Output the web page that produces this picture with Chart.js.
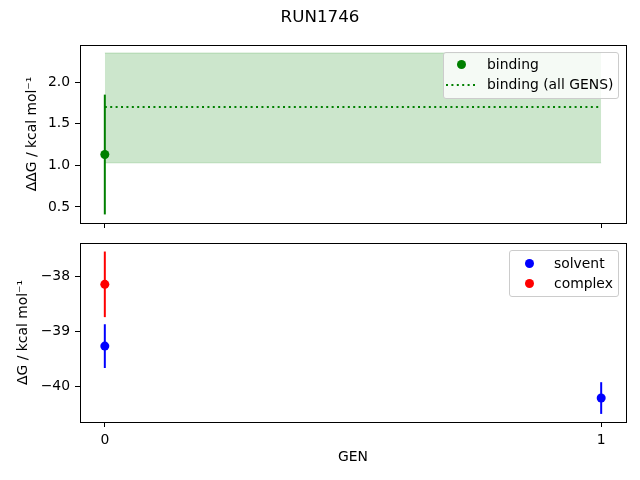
<!DOCTYPE html>
<html><head><meta charset="utf-8">
<script src="https://cdn.jsdelivr.net/npm/chart.js@4"></script>
<style>
body{margin:0;width:640px;height:480px;position:relative;background:#fff;overflow:hidden;font-family:"DejaVu Sans",sans-serif}
canvas{position:absolute;left:0}
#c1{top:0}
#c2{top:233px}
.lbox{position:absolute;border:1px solid #cccccc;border-radius:3px;background:rgba(255,255,255,0.8)}
.item{position:absolute;white-space:nowrap;font-size:13.9px;line-height:16px;color:#000}
.dot{position:absolute;width:9px;height:9px;border-radius:50%}
svg{position:absolute}
</style>
</head><body>
<canvas id="c1" width="640" height="233"></canvas>
<canvas id="c2" width="640" height="247"></canvas>

<div class="lbox" style="left:443px;top:52px;width:174px;height:45px"></div>
<div class="dot" style="left:456.5px;top:60px;background:green"></div>
<div class="item" style="left:487px;top:56px">binding</div>
<svg style="left:446px;top:83px" width="30" height="4"><line x1="0" y1="2" x2="30" y2="2" stroke="green" stroke-width="2" stroke-dasharray="2 3.4"/></svg>
<div class="item" style="left:487px;top:76px">binding (all GENS)</div>

<div class="lbox" style="left:509px;top:250px;width:108px;height:45px"></div>
<div class="dot" style="left:524.5px;top:258.5px;background:blue"></div>
<div class="item" style="left:554px;top:255px">solvent</div>
<div class="dot" style="left:524.5px;top:278.5px;background:red"></div>
<div class="item" style="left:554px;top:275px">complex</div>

<script>
// ---- data ----
const gens = [0, 1];
const xTicks = [0, 1];
const bindingGen = [0];
const bindingVal = [1.13];
const bindingErr = [0.72];
const bindingAll = 1.70;
const bindingAllLow = 1.03;
const bindingAllHigh = 2.35;
const solventGen = [0, 1];
const solventVal = [-39.27, -40.22];
const solventErr = [0.40, 0.29];
const complexGen = [0];
const complexVal = [-38.14];
const complexErr = [0.60];
const topYTicks = [0.5, 1.0, 1.5, 2.0];
const botYTicks = [-40, -39, -38];

Chart.defaults.font.family = 'DejaVu Sans';
Chart.defaults.font.size = 13.9;
Chart.defaults.color = '#000';

const frame = {id:'frame', afterDraw(c){const a=c.chartArea, x=c.ctx; x.save(); x.strokeStyle='#000'; x.lineWidth=1;
  x.strokeRect(Math.round(a.left)+0.5, Math.round(a.top)+0.5, Math.round(a.right-a.left), Math.round(a.bottom-a.top)); x.restore();}};

function errSets(xs, vals, errs, color){
  return xs.map((x,i)=>({showLine:true, data:[{x:x,y:vals[i]-errs[i]},{x:x,y:vals[i]+errs[i]}],
    borderColor:color, borderWidth:2, pointRadius:0, order:2}));
}
function ptSet(xs, vals, color){
  return {data: xs.map((x,i)=>({x:x,y:vals[i]})), backgroundColor:color, borderColor:color, borderWidth:0, pointRadius:4.5, order:1};
}
function tickSetter(arr){ return s => { s.ticks = arr.map(v=>({value:v})); }; }
function fitX(h){ return s => { s.height = h; s.paddingLeft = 0; s.paddingRight = 0; s.paddingTop = 0; s.paddingBottom = 0; }; }
function fitY(w){ return s => { s.width = w; s.paddingLeft = 0; s.paddingRight = 0; s.paddingTop = 0; s.paddingBottom = 0; }; }
const gridOpts = {drawOnChartArea:false, tickLength:5, color:'#000', lineWidth:1};

new Chart(document.getElementById('c1'), {
  type:'scatter',
  data:{datasets:[
    {showLine:true, data: gens.map(x=>({x:x,y:bindingAllLow})), borderColor:'rgba(0,128,0,0.2)', borderWidth:1, pointRadius:0, order:4},
    {showLine:true, data: gens.map(x=>({x:x,y:bindingAllHigh})), borderColor:'rgba(0,128,0,0.2)', borderWidth:1, pointRadius:0, fill:'-1', backgroundColor:'rgba(0,128,0,0.2)', order:4},
    {showLine:true, data: gens.map(x=>({x:x,y:bindingAll})), borderColor:'green', borderWidth:2, borderDash:[2,3.4], pointRadius:0, order:3},
    ...errSets(bindingGen, bindingVal, bindingErr, 'green'),
    ptSet(bindingGen, bindingVal, 'green')
  ]},
  options:{
    responsive:false, animation:false,
    layout:{padding:{left:14,right:14,top:0,bottom:0}},
    plugins:{legend:{display:false}, tooltip:{enabled:false},
      title:{display:true, text:'RUN1746', color:'#000', font:{size:16.7, weight:'normal'}, padding:{top:8,bottom:17}}},
    scales:{
      x:{type:'linear', min:-0.05, max:1.05, afterBuildTicks:tickSetter(xTicks), ticks:{display:false},
         grid:gridOpts, border:{display:false}, afterFit:fitX(10)},
      y:{type:'linear', min:0.307, max:2.446, afterBuildTicks:tickSetter(topYTicks),
         ticks:{padding:5, callback:v=>Number(v).toFixed(1)}, grid:gridOpts, border:{display:false},
         title:{display:true, text:'ΔΔG / kcal mol⁻¹', padding:{top:9.66,bottom:0}},
         afterFit:fitY(66)}
    }
  },
  plugins:[frame]
});

new Chart(document.getElementById('c2'), {
  type:'scatter',
  data:{datasets:[
    ...errSets(solventGen, solventVal, solventErr, 'blue'),
    ptSet(solventGen, solventVal, 'blue'),
    ...errSets(complexGen, complexVal, complexErr, 'red'),
    ptSet(complexGen, complexVal, 'red')
  ]},
  options:{
    responsive:false, animation:false,
    layout:{padding:{left:14,right:14,top:10,bottom:14.7}},
    plugins:{legend:{display:false}, tooltip:{enabled:false}},
    scales:{
      x:{type:'linear', min:-0.05, max:1.05, afterBuildTicks:tickSetter(xTicks),
         ticks:{padding:5, callback:v=>String(v)}, grid:gridOpts, border:{display:false},
         title:{display:true, text:'GEN', padding:{top:0,bottom:0}},
         afterFit:fitX(43.3)},
      y:{type:'linear', min:-40.658, max:-37.384, afterBuildTicks:tickSetter(botYTicks),
         ticks:{padding:5, callback:v=>String(v).replace('-','\u2212')}, grid:gridOpts, border:{display:false},
         title:{display:true, text:'ΔG / kcal mol⁻¹', padding:{top:0.66,bottom:0}},
         afterFit:fitY(66)}
    }
  },
  plugins:[frame]
});
</script>
</body></html>
